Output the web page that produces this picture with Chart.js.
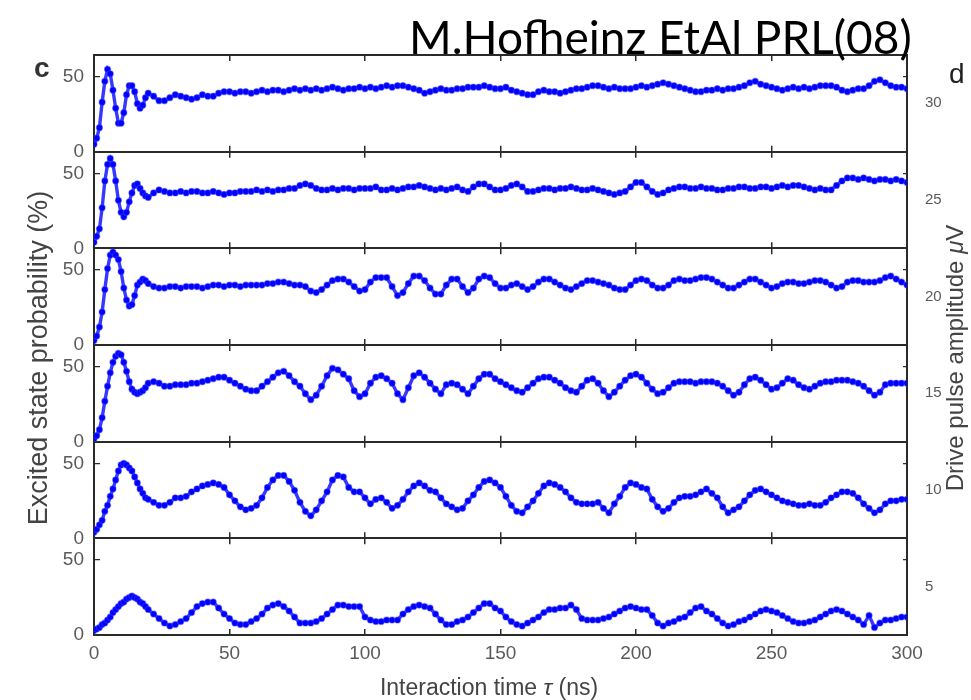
<!DOCTYPE html>
<html>
<head>
<meta charset="utf-8">
<script src="https://cdn.jsdelivr.net/npm/chart.js@4.4.1/dist/chart.umd.min.js"></script>
<style>
  html, body { margin: 0; padding: 0; background: #fff; }
  #wrap { position: relative; width: 971px; height: 700px; overflow: hidden; }
  #cv { position: absolute; left: 0; top: 0; }
  .lbl { position: absolute; white-space: nowrap; font-family: "Liberation Sans", Arial, sans-serif; line-height: 1; }
  #ttl { left: 409px; top: 14px; font-family: Lato, "Open Sans", sans-serif; font-size: 46px; color: #000; }
  #lc { left: 34px; top: 54px; font-size: 28px; font-weight: bold; color: #333; }
  #ld { left: 949px; top: 60px; font-size: 28px; color: #222; }
  #lt { left: 38px; top: 358px; font-size: 27px; color: #444; transform: translate(-50%, -50%) rotate(-90deg); }
  #rt { left: 955px; top: 358px; font-size: 24px; color: #444; transform: translate(-50%, -50%) rotate(-90deg); }
  #xt { left: 489px; top: 687px; font-size: 23px; color: #444; transform: translate(-50%, -50%); }
</style>
</head>
<body>
<div id="wrap">
  <canvas id="cv" width="971" height="700"></canvas>
  <div class="lbl" id="ttl">M.Hofheinz EtAl PRL(08)</div>
  <div class="lbl" id="lc">c</div>
  <div class="lbl" id="ld">d</div>
  <div class="lbl" id="lt">Excited state probability (%)</div>
  <div class="lbl" id="rt">Drive pulse amplitude <i>μ</i>V</div>
  <div class="lbl" id="xt">Interaction time <i>τ</i> (ns)</div>
</div>
<script>
// tempi di interazione (ns): passo 1 fino a 20, poi passo 2
const times = [
  0, 1, 2, 3, 4, 5, 6, 7, 8, 9, 10, 11, 12, 13, 14, 15, 16, 17, 18, 19, 20,
  22, 24, 26, 28, 30, 32, 34, 36, 38, 40,
  42, 44, 46, 48, 50, 52, 54, 56, 58, 60,
  62, 64, 66, 68, 70, 72, 74, 76, 78, 80,
  82, 84, 86, 88, 90, 92, 94, 96, 98, 100,
  102, 104, 106, 108, 110, 112, 114, 116, 118, 120,
  122, 124, 126, 128, 130, 132, 134, 136, 138, 140,
  142, 144, 146, 148, 150, 152, 154, 156, 158, 160,
  162, 164, 166, 168, 170, 172, 174, 176, 178, 180,
  182, 184, 186, 188, 190, 192, 194, 196, 198, 200,
  202, 204, 206, 208, 210, 212, 214, 216, 218, 220,
  222, 224, 226, 228, 230, 232, 234, 236, 238, 240,
  242, 244, 246, 248, 250, 252, 254, 256, 258, 260,
  262, 264, 266, 268, 270, 272, 274, 276, 278, 280,
  282, 284, 286, 288, 290, 292, 294, 296, 298, 300
];

// probabilita' stato eccitato (%) per ogni pannello, dall'alto (30 uV) al basso (5 uV)
const amp30 = [
  5, 9, 16, 33, 47, 55, 52, 41, 29, 19, 19, 26, 38, 44, 44, 40, 32, 29, 31, 36, 39,
  37, 34, 34, 36, 38, 37, 36, 35, 36, 38,
  37, 37, 39, 40, 40, 39, 40, 40, 39, 40,
  41, 40, 41, 41, 40, 41, 42, 41, 42, 41,
  42, 41, 42, 43, 42, 41, 42, 42, 43, 42,
  43, 42, 43, 44, 43, 44, 44, 43, 42, 41,
  39, 40, 41, 42, 41, 41, 42, 42, 43, 43,
  43, 44, 43, 42, 42, 43, 41, 40, 39, 38,
  38, 40, 41, 40, 40, 39, 40, 41, 42, 42,
  43, 44, 44, 43, 42, 43, 42, 42, 42, 43,
  44, 43, 44, 45, 46, 45, 44, 43, 42, 41,
  40, 40, 41, 41, 42, 41, 42, 42, 43, 44,
  46, 47, 45, 44, 43, 42, 41, 42, 43, 42,
  43, 42, 43, 44, 44, 44, 43, 41, 40, 41,
  42, 42, 44, 47, 48, 46, 44, 43, 43, 42
];
const amp25 = [
  4, 8, 13, 27, 45, 56, 60, 56, 45, 32, 24, 21, 24, 31, 37, 42, 43, 40, 37, 35, 34,
  37, 39, 38, 37, 37, 38, 37, 38, 38, 37,
  37, 38, 37, 36, 37, 37, 38, 38, 38, 39,
  38, 39, 38, 39, 39, 40, 40, 42, 43, 42,
  40, 39, 39, 40, 39, 40, 40, 39, 40, 40,
  40, 41, 39, 39, 40, 39, 40, 41, 41, 42,
  41, 40, 39, 40, 39, 40, 41, 39, 38, 41,
  43, 43, 41, 39, 39, 40, 42, 43, 41, 38,
  38, 39, 40, 40, 39, 40, 40, 41, 40, 39,
  39, 40, 39, 38, 37, 36, 37, 38, 41, 44,
  44, 41, 38, 36, 37, 39, 40, 41, 41, 40,
  40, 41, 40, 40, 39, 39, 40, 40, 41, 41,
  40, 40, 41, 41, 40, 41, 42, 41, 42, 42,
  41, 40, 39, 40, 39, 39, 42, 45, 47, 47,
  46, 47, 46, 45, 46, 46, 45, 46, 45, 44
];
const amp20 = [
  3, 6, 12, 22, 37, 51, 60, 62, 60, 57, 49, 38, 30, 26, 27, 33, 40, 42, 44, 43, 41,
  39, 38, 38, 39, 39, 38, 39, 39, 39, 38,
  39, 40, 40, 39, 40, 40, 39, 40, 40, 40,
  40, 41, 41, 42, 42, 41, 40, 40, 39, 36,
  35, 37, 40, 43, 44, 44, 42, 39, 36, 37,
  42, 45, 45, 45, 39, 33, 35, 41, 46, 46,
  43, 38, 34, 34, 40, 44, 44, 39, 35, 38,
  44, 46, 45, 41, 38, 38, 40, 41, 39, 37,
  39, 42, 44, 44, 42, 40, 38, 37, 39, 41,
  43, 43, 42, 41, 40, 38, 37, 37, 40, 43,
  44, 43, 40, 38, 38, 40, 43, 44, 43, 43,
  44, 45, 45, 44, 42, 40, 38, 38, 40, 42,
  44, 44, 42, 40, 38, 39, 41, 42, 42, 41,
  41, 42, 43, 43, 42, 40, 38, 39, 42, 43,
  43, 42, 42, 42, 43, 45, 46, 44, 42, 40
];
const amp15 = [
  2, 4, 8, 16, 27, 37, 46, 53, 57, 59, 58, 53, 47, 40, 35, 33, 32, 33, 34, 36, 39,
  40, 39, 37, 37, 38, 38, 38, 39, 39, 40,
  41, 42, 43, 43, 41, 39, 37, 35, 34, 34,
  37, 40, 43, 46, 47, 44, 40, 37, 32, 28,
  31, 37, 44, 49, 48, 45, 42, 34, 30, 32,
  39, 43, 44, 42, 39, 32, 28, 36, 44, 46,
  43, 39, 35, 32, 38, 39, 38, 35, 32, 37,
  42, 45, 45, 42, 40, 38, 36, 34, 33, 36,
  39, 42, 43, 43, 41, 39, 36, 34, 33, 37,
  41, 42, 39, 34, 30, 33, 37, 41, 44, 45,
  43, 39, 35, 32, 33, 36, 39, 40, 40, 40,
  39, 40, 40, 40, 39, 37, 34, 31, 33, 38,
  42, 43, 41, 38, 35, 36, 39, 42, 41, 38,
  36, 35, 37, 39, 40, 40, 41, 41, 41, 40,
  39, 37, 34, 31, 33, 38, 39, 39, 39, 39
];
const amp10 = [
  4, 6, 9, 12, 18, 22, 28, 33, 39, 45, 49, 50, 49, 47, 45, 41, 37, 33, 30, 27, 26,
  24, 22, 22, 24, 27, 27, 28, 31, 33, 35,
  36, 37, 36, 34, 29, 25, 21, 19, 20, 22,
  27, 34, 39, 42, 42, 38, 32, 24, 18, 15,
  19, 25, 31, 39, 42, 41, 34, 31, 31, 27,
  23, 26, 27, 24, 20, 22, 26, 31, 35, 37,
  35, 32, 31, 27, 23, 21, 19, 20, 25, 29,
  34, 38, 39, 37, 34, 28, 22, 18, 17, 21,
  25, 30, 35, 37, 36, 34, 31, 27, 24, 23,
  23, 23, 24, 20, 17, 23, 28, 34, 37, 36,
  34, 33, 26, 21, 18, 20, 24, 27, 28, 28,
  29, 31, 33, 30, 27, 21, 17, 19, 21, 25,
  29, 32, 33, 31, 29, 27, 25, 24, 23, 22,
  22, 23, 22, 22, 24, 27, 29, 31, 31, 30,
  27, 23, 20, 17, 19, 23, 25, 25, 26, 26
];
const amp5 = [
  3, 4, 5, 7, 8, 10, 12, 15, 17, 19, 21, 22, 24, 25, 26, 25, 24, 22, 21, 19, 17,
  14, 11, 8, 6, 7, 9, 11, 15, 19, 21,
  22, 22, 18, 14, 11, 8, 7, 7, 9, 11,
  14, 18, 20, 21, 19, 16, 12, 8, 8, 8,
  9, 11, 14, 17, 20, 20, 19, 19, 19, 12,
  10, 9, 9, 10, 10, 10, 14, 17, 19, 20,
  19, 18, 14, 10, 7, 7, 9, 10, 12, 15,
  18, 21, 21, 18, 16, 12, 9, 7, 6, 8,
  10, 12, 15, 17, 17, 18, 18, 20, 17, 11,
  10, 10, 10, 11, 12, 14, 16, 18, 19, 18,
  17, 17, 13, 8, 6, 8, 9, 11, 12, 15,
  18, 19, 16, 14, 11, 8, 6, 7, 9, 10,
  12, 14, 16, 17, 16, 15, 13, 11, 9, 8,
  8, 9, 10, 12, 14, 16, 17, 16, 14, 12,
  10, 7, 13, 5, 8, 10, 10, 11, 12, 12
];

const xTicks     = [0, 50, 100, 150, 200, 250, 300];
const probTicks  = [0, 50];               // tacche asse sinistro di ogni pannello
const driveTicks = [5, 10, 15, 20, 25, 30]; // asse destro (uV)

const series  = [amp30, amp25, amp20, amp15, amp10, amp5];
const panelId = ['y1', 'y2', 'y3', 'y4', 'y5', 'y6'];

const FONT  = '"Liberation Sans", Arial, sans-serif';
const INK   = '#2a2a2a';
const GREY  = '#5a5a5a';
const PMAX  = 64.5; // fondo scala di ogni pannello

const scales = {
  x: {
    type: 'linear', position: 'bottom', min: 0, max: 300,
    afterBuildTicks: s => { s.ticks = xTicks.map(v => ({ value: v })); },
    ticks: { color: GREY, font: { family: FONT, size: 19 }, padding: 7, maxRotation: 0 },
    grid: { drawTicks: false, color: INK, lineWidth: 1.5 },
    border: {
      display: true, color: INK, width: 2,
      // tacche che attraversano ogni separazione fra pannelli (periodo = altezza pannello)
      dash: ctx => { const h = ctx.chart.chartArea ? ctx.chart.chartArea.height / 6 : 96.7; return [12, h - 12]; },
      dashOffset: 6
    },
    afterFit: s => { s.height = 65; }
  },
  xTop: {
    type: 'linear', position: 'top', min: 0, max: 300,
    ticks: { display: false }, grid: { display: false },
    border: { display: true, color: INK, width: 2 },
    afterFit: s => { s.height = 55; }
  },
  yR: {
    type: 'linear', position: 'right', min: 2.5, max: 32.5,
    afterBuildTicks: s => { s.ticks = driveTicks.map(v => ({ value: v })); },
    ticks: { color: GREY, font: { family: FONT, size: 15 }, padding: 10 },
    grid: { display: false },
    border: { display: true, color: INK, width: 2 },
    afterFit: s => { s.width = 64; }
  }
};

panelId.forEach((id, k) => {
  scales[id] = {
    type: 'linear', position: 'left', stack: 'panels', stackWeight: 1, weight: 6 - k,
    min: 0, max: PMAX,
    afterBuildTicks: s => { s.ticks = probTicks.map(v => ({ value: v })); },
    ticks: { color: GREY, font: { family: FONT, size: 19 }, padding: 10 },
    grid: {
      drawTicks: false, color: INK,
      lineWidth: ctx => (ctx.tick && ctx.tick.value === 0) ? 2 : 1.2
    },
    border: {
      display: true, color: INK, width: 2,
      // a 50 solo tacchetta a sinistra e a destra, a 0 linea piena di separazione
      dash: ctx => {
        if (!ctx.tick || ctx.tick.value === 0) return [];
        const w = ctx.chart.chartArea ? ctx.chart.chartArea.width : 813;
        return [5, w - 10];
      }
    },
    afterFit: s => { s.width = 50; }
  };
});

const datasets = series.map((vals, k) => ({
  data: times.map((t, i) => ({ x: t, y: vals[i] })),
  xAxisID: 'x',
  yAxisID: panelId[k],
  borderColor: 'rgba(20,20,255,0.85)',
  borderWidth: 3.4,
  pointRadius: 3.1,
  pointBackgroundColor: '#0000ff',
  pointBorderColor: 'rgba(70,70,255,0.4)',
  pointBorderWidth: 1.2,
  tension: 0
}));

new Chart(document.getElementById('cv'), {
  type: 'line',
  data: { datasets },
  options: {
    responsive: false,
    animation: false,
    devicePixelRatio: 1,
    layout: { padding: { left: 44 } },
    plugins: { legend: { display: false }, tooltip: { enabled: false } },
    scales
  }
});
</script>
</body>
</html>
